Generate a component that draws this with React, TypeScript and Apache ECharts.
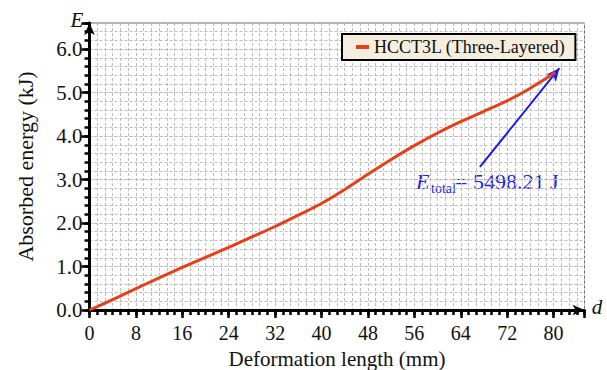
import React, { useEffect, useRef } from "react";
import * as echarts from "echarts";

const deformation = [0, 4, 8, 12, 16, 20, 24, 28, 32, 36, 40, 44, 48, 52, 56, 60, 64, 68, 72, 76, 80.3];
const energy = [0, 0.24, 0.49, 0.74, 0.98, 1.21, 1.44, 1.68, 1.92, 2.18, 2.45, 2.77, 3.12, 3.46, 3.78, 4.07, 4.33, 4.57, 4.81, 5.1, 5.46];
const seriesName = "HCCT3L (Three-Layered)";
const arrowStart = [67.3, 3.29];
const arrowEnd = [81.0, 5.56];

const FONT = "'Liberation Serif', 'Times New Roman', serif";

export default function App() {
  const ref = useRef<HTMLDivElement>(null);
  useEffect(() => {
    if (!ref.current) return;
    const chart = echarts.init(ref.current, undefined, { renderer: "svg" });
    const data = deformation.map((d, i) => [d, energy[i]]);
    const gridDef = { left: 89.5, right: 22.5, top: 23, bottom: 60 };
    chart.setOption({
      animation: false,
      backgroundColor: "#fff",
      textStyle: { fontFamily: FONT },
      grid: {
        ...gridDef,
        outerBoundsMode: "none",
        containLabel: false,
        show: true,
        borderColor: "#666",
        borderWidth: 1,
        backgroundColor: "#fff",
      },
      legend: {
        show: true,
        left: 342,
        top: 34,
        data: [{ name: seriesName, icon: "rect" }],
        itemWidth: 13,
        itemHeight: 4,
        backgroundColor: "#f4eedf",
        borderColor: "#000",
        borderWidth: 2,
        padding: [4, 10, 4, 14],
        textStyle: { fontFamily: FONT, fontSize: 18, color: "#111" },
      },
      xAxis: [
        {
          type: "value",
          min: 0,
          max: 85.333,
          interval: 8,
          name: "Deformation length (mm)",
          nameLocation: "middle",
          nameGap: 38,
          nameMoveOverlap: false,
          nameTextStyle: { fontFamily: FONT, fontSize: 21, lineHeight: 22, color: "#111" },
          axisLine: { show: true, symbol: ["none", "arrow"], symbolSize: [8, 12], lineStyle: { color: "#000", width: 3 } },
          axisTick: { show: true, length: 8, lineStyle: { color: "#000", width: 2.5 } },
          axisLabel: {
            margin: 13,
            fontFamily: FONT,
            fontSize: 20,
            lineHeight: 20,
            color: "#111",
            formatter: (v: number) => (Math.abs(v % 8) < 1e-6 ? String(v) : ""),
          },
          splitLine: { show: true, lineStyle: { color: "#999", type: [3, 2], width: 1 } },
        },
        {
          type: "value",
          min: 0,
          max: 85.333,
          interval: 4 / 3,
          position: "bottom",
          axisLine: { show: false },
          axisTick: { show: true, length: 5, lineStyle: { color: "#000", width: 2.5 } },
          axisLabel: { show: false },
          splitLine: { show: true, lineStyle: { color: "#bdbdbd", type: [3, 2], width: 1 } },
        },
      ],
      yAxis: [
        {
          type: "value",
          min: 0,
          max: 6.6,
          interval: 1,
          name: "Absorbed energy (kJ)",
          nameLocation: "middle",
          nameGap: 53,
          nameMoveOverlap: false,
          nameRotate: 90,
          nameTextStyle: { fontFamily: FONT, fontSize: 22, color: "#111" },
          axisLine: { show: true, symbol: ["none", "arrow"], symbolSize: [8, 12], lineStyle: { color: "#000", width: 3 } },
          axisTick: { show: true, length: 8, lineStyle: { color: "#000", width: 2.5 } },
          axisLabel: {
            margin: 7,
            fontFamily: FONT,
            fontSize: 21,
            color: "#111",
            formatter: (v: number) => (Math.abs(v - Math.round(v)) < 1e-6 ? v.toFixed(1) : ""),
          },
          splitLine: { show: true, lineStyle: { color: "#999", type: [3, 2], width: 1 } },
        },
        {
          type: "value",
          min: 0,
          max: 6.6,
          interval: 0.2,
          position: "left",
          axisLine: { show: false },
          axisTick: { show: true, length: 5, lineStyle: { color: "#000", width: 2.5 } },
          axisLabel: { show: false },
          splitLine: { show: true, lineStyle: { color: "#bdbdbd", type: [3, 2], width: 1 } },
        },
      ],
      series: [
        {
          name: seriesName,
          type: "line",
          data,
          showSymbol: false,
          smooth: 0.2,
          z: 5,
          lineStyle: { color: "#e4401a", width: 3 },
          itemStyle: { color: "#e4401a" },
          markLine: {
            silent: true,
            symbol: ["none", "arrow"],
            symbolSize: [9, 13],
            label: { show: false },
            lineStyle: { color: "#1a1af0", width: 2, type: "solid" },
            data: [[{ coord: arrowStart }, { coord: arrowEnd }]],
          },
        },
      ],
      graphic: [
        {
          type: "text",
          x: 77,
          y: 20,
          style: { text: "E", fontFamily: FONT, fontStyle: "italic", fontSize: 21, fill: "#111", align: "center", verticalAlign: "middle" },
        },
        {
          type: "text",
          x: 597,
          y: 307,
          style: { text: "d", fontFamily: FONT, fontStyle: "italic", fontSize: 21, fill: "#111", align: "center", verticalAlign: "middle" },
        },
        {
          type: "text",
          x: 416,
          y: 181,
          style: { text: "E", fontFamily: FONT, fontStyle: "italic", fontSize: 22, fill: "#2020e8", align: "left", verticalAlign: "middle" },
        },
        {
          type: "text",
          x: 431,
          y: 188,
          style: { text: "total", fontFamily: FONT, fontSize: 14, fill: "#2020e8", align: "left", verticalAlign: "middle" },
        },
        {
          type: "text",
          x: 455,
          y: 181,
          style: { text: "= 5498.21 J", fontFamily: FONT, fontSize: 22, fill: "#2020e8", align: "left", verticalAlign: "middle" },
        },
      ],
    });
    return () => chart.dispose();
  }, []);
  return <div ref={ref} style={{ width: 607, height: 370, position: "absolute", left: 0, top: 0 }} />;
}
